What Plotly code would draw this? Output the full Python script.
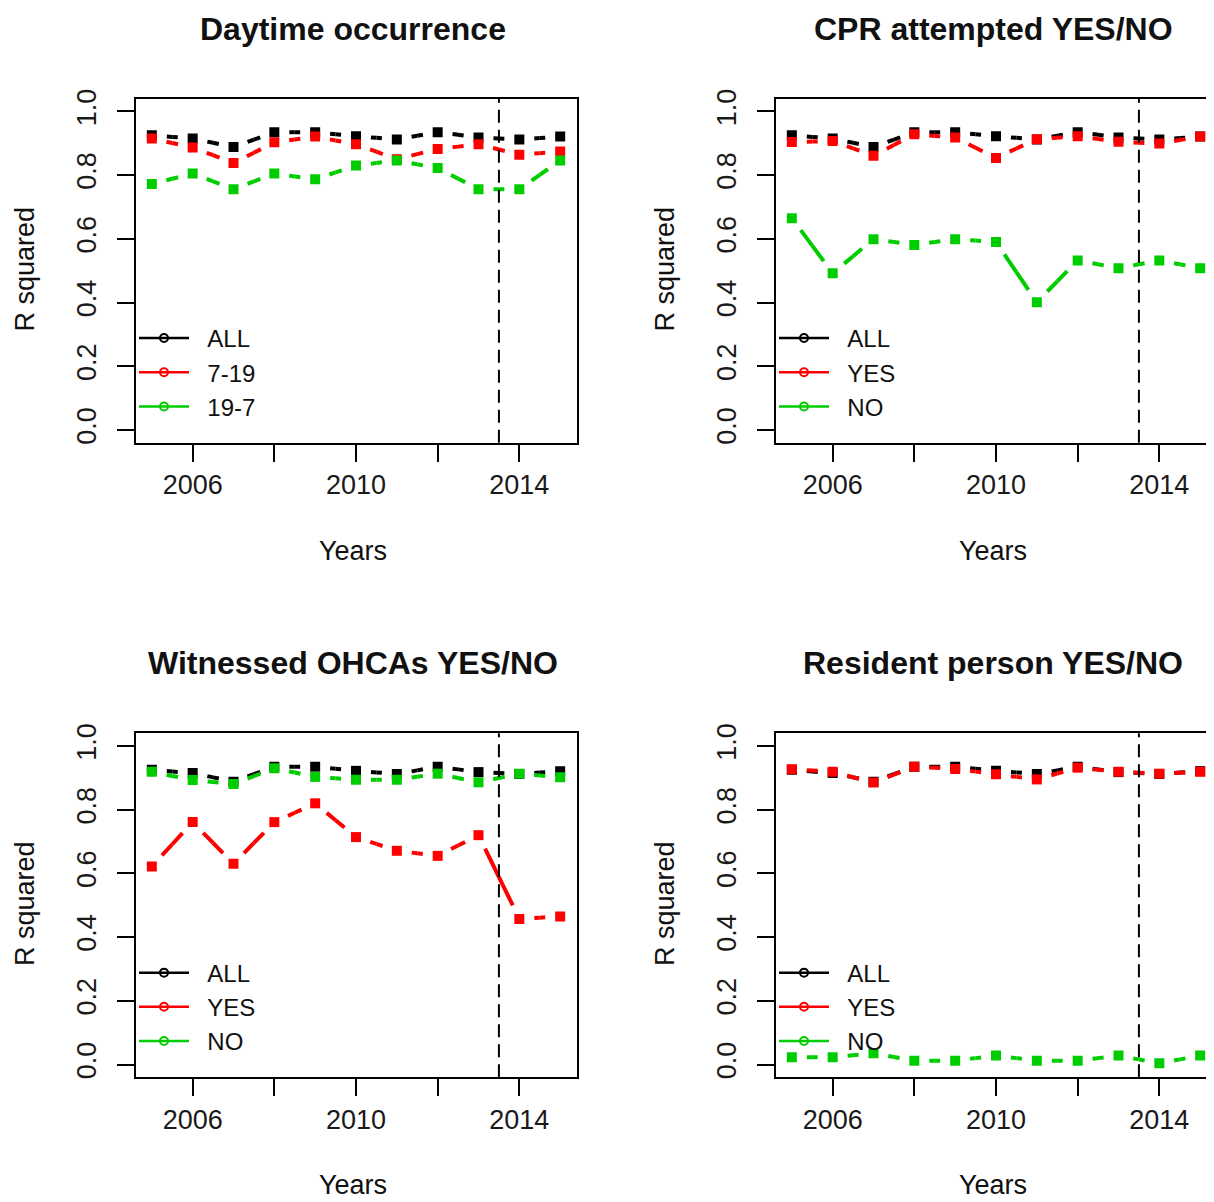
import numpy as np
import plotly.graph_objects as go

# ---------------- data ----------------
years = [2005, 2006, 2007, 2008, 2009, 2010, 2011, 2012, 2013, 2014, 2015]
cutoff_year = 2013.5

all_r2 = [0.925, 0.915, 0.888, 0.935, 0.935, 0.922, 0.912, 0.935, 0.918, 0.912, 0.921]

day_7_19 = [0.915, 0.887, 0.838, 0.903, 0.921, 0.897, 0.850, 0.882, 0.897, 0.864, 0.874]
day_19_7 = [0.772, 0.805, 0.756, 0.805, 0.787, 0.830, 0.846, 0.822, 0.756, 0.756, 0.846]

cpr_yes = [0.904, 0.907, 0.861, 0.928, 0.918, 0.854, 0.913, 0.922, 0.905, 0.899, 0.921]
cpr_no = [0.665, 0.492, 0.599, 0.581, 0.599, 0.590, 0.401, 0.532, 0.508, 0.532, 0.508]

wit_yes = [0.622, 0.761, 0.630, 0.761, 0.820, 0.714, 0.671, 0.655, 0.720, 0.457, 0.465]
wit_no = [0.919, 0.893, 0.881, 0.930, 0.903, 0.894, 0.894, 0.913, 0.886, 0.913, 0.902]

res_yes = [0.927, 0.919, 0.885, 0.935, 0.928, 0.911, 0.895, 0.932, 0.919, 0.913, 0.919]
res_no = [0.023, 0.023, 0.035, 0.012, 0.012, 0.028, 0.012, 0.012, 0.028, 0.004, 0.028]

titles = ["Daytime occurrence", "CPR attempted YES/NO",
          "Witnessed OHCAs YES/NO", "Resident person YES/NO"]
legend_labels = [["ALL", "7-19", "19-7"], ["ALL", "YES", "NO"],
                 ["ALL", "YES", "NO"], ["ALL", "YES", "NO"]]
panel_series = [[all_r2, day_7_19, day_19_7], [all_r2, cpr_yes, cpr_no],
                [all_r2, wit_yes, wit_no], [all_r2, res_yes, res_no]]

x_tickvals = [2006, 2008, 2010, 2012, 2014]
x_ticktext = ["2006", "", "2010", "", "2014"]
y_tickvals = [0.0, 0.2, 0.4, 0.6, 0.8, 1.0]
y_ticktext = ["0.0", "0.2", "0.4", "0.6", "0.8", "1.0"]

# ---------------- styling ----------------
OFF = 8                      # default page (body) margin of the html page
W, H = 1214 - OFF, 1202 - OFF
colors = ["#000000", "#FF0000", "#00CD00"]
FONT = "Liberation Sans, Arial, sans-serif"
GAP = 15  # px gap around points (R type="b")

px_per_year = 441 / 10.8
# boxes in page pixels
boxes_x = [(135.5, 576.5), (775.5, 1214), (135.5, 576.5), (775.5, 1214)]
boxes_y = [(89.5, 437.0), (89.5, 437.0), (730.5, 1078.0), (730.5, 1078.0)]


def px(xp):
    return (xp - OFF) / W


def py(yp):
    return 1 - (yp - OFF) / H


fig = go.Figure()


def half_segments(xs, ys):
    """Paths from each point toward the midpoint of each segment."""
    hx, hy = [], []
    for i in range(len(xs) - 1):
        mx = (xs[i] + xs[i + 1]) / 2
        my = (ys[i] + ys[i + 1]) / 2
        hx += [xs[i], mx, None, xs[i + 1], mx, None]
        hy += [ys[i], my, None, ys[i + 1], my, None]
    return hx, hy


layout_axes = {}
annotations = []
shapes = []
for p in range(4):
    n = "" if p == 0 else str(p + 1)
    xa, ya = "x" + n, "y" + n
    leg = "legend" if p == 0 else "legend" + str(p + 1)
    for s, (vals, col) in enumerate(zip(panel_series[p], colors)):
        hx, hy = half_segments(years, vals)
        fig.add_trace(go.Scatter(
            x=hx, y=hy, mode="lines", xaxis=xa, yaxis=ya,
            line=dict(color=col, width=4, dash="0px,%dpx,3000px" % GAP),
            connectgaps=False, showlegend=False, hoverinfo="skip"))
        fig.add_trace(go.Scatter(
            x=years, y=vals, mode="markers", xaxis=xa, yaxis=ya,
            marker=dict(symbol="square", size=10, color=col, line=dict(width=0)),
            showlegend=False))
    for s, col in enumerate(colors):
        fig.add_trace(go.Scatter(
            x=[None], y=[None], mode="lines+markers", xaxis=xa, yaxis=ya,
            name="\u00a0\u00a0" + legend_labels[p][s], legend=leg,
            line=dict(color=col, width=2.5),
            marker=dict(symbol="circle-open", size=8, color=col, line=dict(width=2))))

    x0, x1 = boxes_x[p]
    y0, y1 = boxes_y[p]
    xr = [2004.6, 2004.6 + (x1 - x0) / px_per_year]
    right = p in (1, 3)
    layout_axes["xaxis" + n] = dict(
        domain=[px(x0), min(1.0, px(x1))], range=xr, anchor=ya,
        tickvals=x_tickvals, ticktext=x_ticktext,
        showline=True, linecolor="black", linewidth=2, mirror=True,
        ticks="outside", ticklen=17, tickwidth=2, tickcolor="black",
        showgrid=False, zeroline=False, ticklabelstandoff=0,
        tickfont=dict(family=FONT, size=27, color="#1a1a1a"))
    layout_axes["yaxis" + n] = dict(
        domain=[py(y1), py(y0)], range=[-0.04, 1.04], anchor=xa,
        tickvals=y_tickvals, ticktext=y_ticktext, tickangle=-90,
        showline=True, linecolor="black", linewidth=2, mirror=not right,
        ticks="outside", ticklen=17, tickwidth=2, tickcolor="black",
        showgrid=False, zeroline=False, ticklabelstandoff=10,
        tickfont=dict(family=FONT, size=27, color="#1a1a1a"))

    shapes.append(dict(type="line", xref=xa, yref=ya + " domain",
                       x0=cutoff_year, x1=cutoff_year, y0=0, y1=1,
                       line=dict(color="black", width=2, dash="13px,7px")))

    cx = 353 + (640 if right else 0)
    oy = 641 if p >= 2 else 0
    annotations.append(dict(text="<b>%s</b>" % titles[p], xref="paper", yref="paper",
                            x=px(cx), y=py(19 + oy), showarrow=False,
                            xanchor="center", yanchor="middle",
                            font=dict(family=FONT, size=32, color="#111")))
    annotations.append(dict(text="Years", xref="paper", yref="paper",
                            x=px(cx), y=py(546 + oy), showarrow=False,
                            xanchor="center", yanchor="middle",
                            font=dict(family=FONT, size=27, color="#111")))
    annotations.append(dict(text="R squared", xref="paper", yref="paper",
                            x=px(25 + (640 if right else 0)), y=py(262 + oy),
                            showarrow=False, textangle=-90,
                            xanchor="center", yanchor="middle",
                            font=dict(family=FONT, size=27, color="#111")))
    layout_axes[leg] = dict(
        x=px(134 + (640 if right else 0)), y=py(309 + oy),
        xanchor="left", yanchor="top", bgcolor="rgba(0,0,0,0)",
        borderwidth=0, itemwidth=50, tracegroupgap=0,
        font=dict(family=FONT, size=24, color="#111"))

fig.update_layout(
    width=W, height=H, margin=dict(l=0, r=0, t=0, b=0),
    paper_bgcolor="white", plot_bgcolor="white",
    annotations=annotations, shapes=shapes, **layout_axes)

fig.write_html("out.html")
